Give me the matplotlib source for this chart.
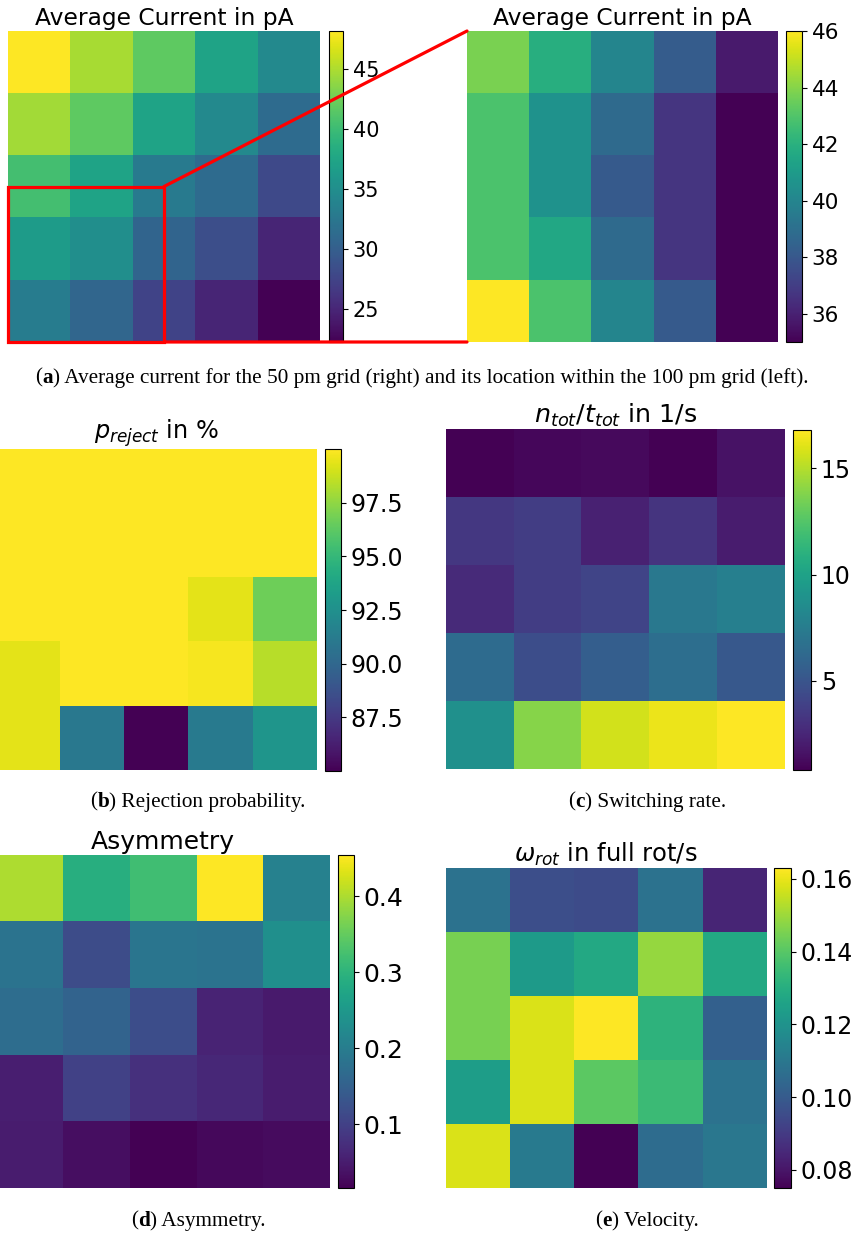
import numpy as np
import matplotlib
matplotlib.use("Agg")
import matplotlib.pyplot as plt
from matplotlib.patches import Rectangle, ConnectionPatch

## values (rows top to bottom)
current_100pm = [[48.2, 44.8, 41.7, 37.3, 34.4],
                 [44.6, 41.7, 37.3, 34.4, 31.3],
                 [40.4, 37.3, 32.8, 31.3, 27.9],
                 [36.5, 35.0, 30.6, 28.4, 24.9],
                 [33.1, 30.8, 27.4, 24.9, 22.2]]
current_50pm = [[43.8, 41.9, 40.0, 38.2, 35.8],
                [42.9, 40.6, 38.8, 36.7, 35.0],
                [42.9, 40.6, 38.1, 36.7, 35.0],
                [42.9, 41.6, 38.8, 36.7, 35.0],
                [46.0, 42.9, 40.0, 38.1, 35.0]]
p_reject = [[100.0, 100.0, 100.0, 100.0, 100.0],
            [100.0, 100.0, 100.0, 100.0, 100.0],
            [100.0, 100.0, 100.0, 99.4, 96.7],
            [99.4, 100.0, 100.0, 99.8, 98.4],
            [99.4, 91.0, 85.0, 91.2, 92.8]]
switch_rate = [[0.8, 1.1, 1.2, 0.8, 1.6],
               [3.4, 3.7, 2.3, 3.2, 2.0],
               [2.7, 3.7, 4.1, 7.2, 7.7],
               [6.4, 4.6, 5.6, 6.6, 5.2],
               [8.8, 13.9, 15.7, 16.3, 16.8]]
asymmetry = [[0.400, 0.290, 0.320, 0.454, 0.209],
             [0.182, 0.117, 0.187, 0.182, 0.235],
             [0.173, 0.156, 0.120, 0.060, 0.047],
             [0.052, 0.100, 0.077, 0.064, 0.050],
             [0.050, 0.033, 0.016, 0.025, 0.029]]
velocity = [[0.108, 0.096, 0.095, 0.108, 0.084],
            [0.145, 0.123, 0.128, 0.149, 0.128],
            [0.145, 0.158, 0.163, 0.132, 0.102],
            [0.124, 0.158, 0.141, 0.135, 0.108],
            [0.158, 0.111, 0.075, 0.106, 0.110]]

ticks_100pm = [25, 30, 35, 40, 45]
ticks_50pm = [36, 38, 40, 42, 44, 46]
ticks_reject = [87.5, 90.0, 92.5, 95.0, 97.5]
ticks_rate = [5, 10, 15]
ticks_asym = [0.1, 0.2, 0.3, 0.4]
ticks_vel = [0.08, 0.10, 0.12, 0.14, 0.16]

W, H = 854, 1236
fig = plt.figure(figsize=(W / 100.0, H / 100.0), dpi=100)

## axes placed in pixel coords of the composite figure
def px_axes(x0, y0, x1, y1):
    return fig.add_axes([x0 / float(W), 1 - y1 / float(H), (x1 - x0) / float(W), (y1 - y0) / float(H)])

def heatmap(box, cbox, data, title, ticks, fs_title, fs_ticks, fmt=None):
    ax = px_axes(*box)
    im = ax.imshow(np.array(data), cmap="viridis", aspect="auto", interpolation="nearest")
    ax.axis("off")
    ax.set_title(title, fontsize=fs_title, pad=4)
    cax = px_axes(*cbox)
    cb = fig.colorbar(im, cax=cax, ticks=ticks)
    cb.ax.tick_params(labelsize=fs_ticks)
    if fmt:
        cb.ax.set_yticklabels([fmt % t for t in ticks])
    return ax

ax_l = heatmap((8, 31, 320, 342), (329, 31, 343, 342), current_100pm,
               "Average Current in pA", ticks_100pm, 16.8, 15)
ax_r = heatmap((467, 31, 778, 342), (786, 31, 802, 342), current_50pm,
               "Average Current in pA", ticks_50pm, 16.8, 15.5)
heatmap((-4, 449, 317, 770), (325, 449, 341, 771), p_reject,
        r"$p_{reject}$ in %", ticks_reject, 17.3, 17, "%.1f")
heatmap((446, 429, 785, 769), (793, 430, 811, 770), switch_rate,
        r"$n_{tot}/t_{tot}$ in 1/s", ticks_rate, 18.3, 17)
heatmap((-3.5, 855, 329, 1188), (338, 855, 354, 1188), asymmetry,
        "Asymmetry", ticks_asym, 18, 18)
heatmap((446, 868, 766, 1188), (774, 868, 791, 1188), velocity,
        r"$\omega_{rot}$ in full rot/s", ticks_vel, 17.5, 17, "%.2f")

## zoom marker: 50 pm grid sits in the lower left of the 100 pm grid
ax_l.add_patch(Rectangle((-0.5, 2.0), 2.5, 2.5, fill=False, edgecolor="red", lw=2.3, clip_on=False))
for pa, pb in [((2.0, 2.0), (-0.5, -0.5)), ((2.0, 4.5), (-0.5, 4.5))]:
    con = ConnectionPatch(xyA=pa, coordsA=ax_l.transData, xyB=pb, coordsB=ax_r.transData,
                          color="red", lw=2.3)
    fig.add_artist(con)

## captions: bold sub-figure letter followed by plain serif text
renderer = fig.canvas.get_renderer()
def caption(xc, yc, letter, rest, fs=15.3):
    kw = dict(fontsize=fs, family="Liberation Serif", va="center")
    parts = [fig.text(0, 0, "(", **kw), fig.text(0, 0, letter, weight="bold", **kw),
             fig.text(0, 0, ") " + rest, **kw)]
    widths = [p.get_window_extent(renderer).width for p in parts]
    x = xc - sum(widths) / 2.0
    for p, w in zip(parts, widths):
        p.set_position((x / W, 1 - yc / float(H)))
        x += w

caption(422, 378, "a", "Average current for the 50 pm grid (right) and its location within the 100 pm grid (left).")
caption(198, 802, "b", "Rejection probability.")
caption(647, 802, "c", "Switching rate.")
caption(198, 1221, "d", "Asymmetry.")
caption(647, 1221, "e", "Velocity.")

plt.savefig("out.png", dpi=100)
